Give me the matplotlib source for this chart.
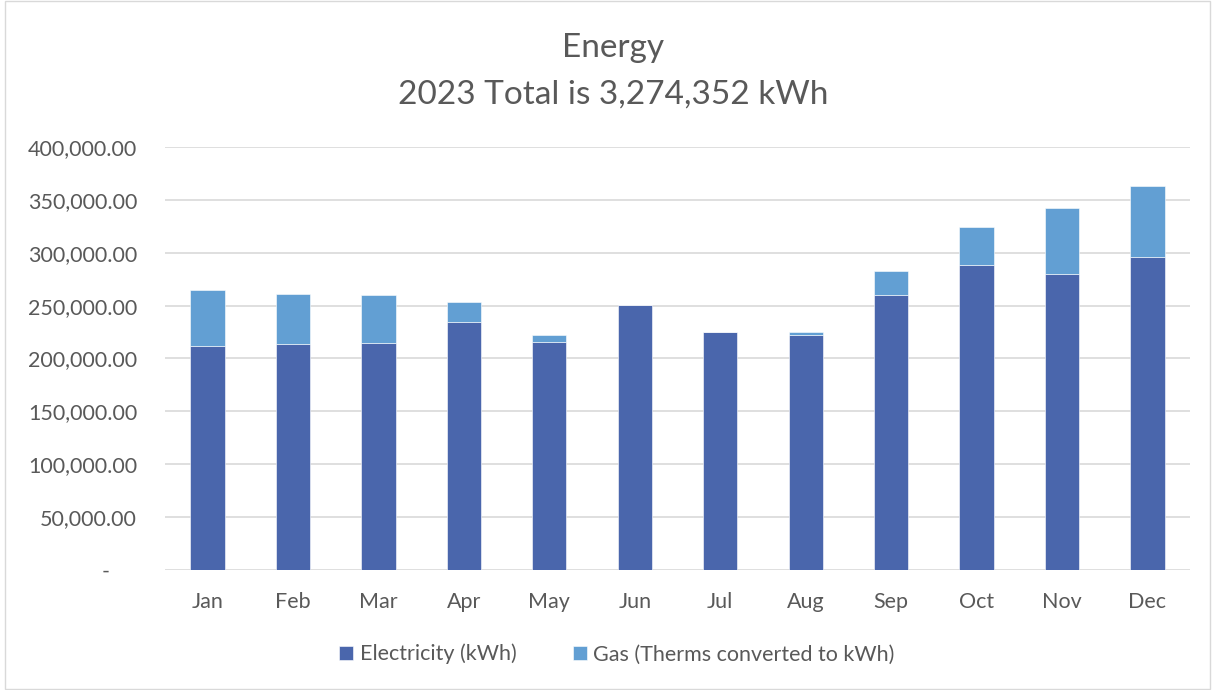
import matplotlib.pyplot as plt
from matplotlib.ticker import FuncFormatter
from matplotlib.patches import Rectangle

plt.rcParams['font.family'] = ['Lato', 'DejaVu Sans']

months = ['Jan', 'Feb', 'Mar', 'Apr', 'May', 'Jun', 'Jul', 'Aug', 'Sep', 'Oct', 'Nov', 'Dec']
electricity = [211900, 213800, 214800, 234700, 215700, 250200, 225200, 222400, 260200, 288600, 279800, 296200]
gas = [52800, 47100, 44900, 18300, 6400, 0, 0, 2500, 22200, 35400, 62800, 67000]

elec_color = '#4A66AC'
gas_color = '#629FD3'
text_color = '#595959'

fig = plt.figure(figsize=(12.12, 6.9), dpi=100)
ax = fig.add_axes([0.136, 0.1746, 0.846, 0.612])

x = range(len(months))
ax.bar(x, electricity, width=0.4, color=elec_color, edgecolor='white', linewidth=0.4,
       label='Electricity (kWh)', zorder=3)
ax.bar(x, gas, width=0.4, bottom=electricity, color=gas_color, edgecolor='white', linewidth=0.4,
       label='Gas (Therms converted to kWh)', zorder=3)

ax.set_ylim(0, 400000)
ax.set_xlim(-0.5, len(months) - 0.5)
ax.set_yticks(range(0, 400001, 50000))
ax.yaxis.set_major_formatter(FuncFormatter(lambda v, p: '-     ' if v == 0 else f'{v:,.2f}'))
ax.set_xticks(list(x))
ax.set_xticklabels(months)
ax.tick_params(axis='both', length=0, labelsize=15.5, colors=text_color)
ax.tick_params(axis='y', pad=20)
ax.tick_params(axis='x', pad=16)
ax.grid(axis='y', color='#D9D9D9', linewidth=1.2, zorder=0)
for s in ax.spines.values():
    s.set_visible(False)

fig.text(0.506, 0.930, 'Energy', ha='center', va='center', fontsize=24, color=text_color)
fig.text(0.506, 0.863, '2023 Total is 3,274,352 kWh', ha='center', va='center', fontsize=24, color=text_color)

fig.legend(loc='center', bbox_to_anchor=(0.509, 0.052), ncol=2, frameon=False,
           fontsize=15.5, labelcolor=text_color, handlelength=0.65, handleheight=0.65,
           handletextpad=0.3, columnspacing=2.6)

fig.patches.append(Rectangle((0.004, 0.002), 0.994, 0.996, transform=fig.transFigure,
                             fill=False, edgecolor='#D9D9D9', linewidth=1))

fig.savefig('out.png', dpi=100)
